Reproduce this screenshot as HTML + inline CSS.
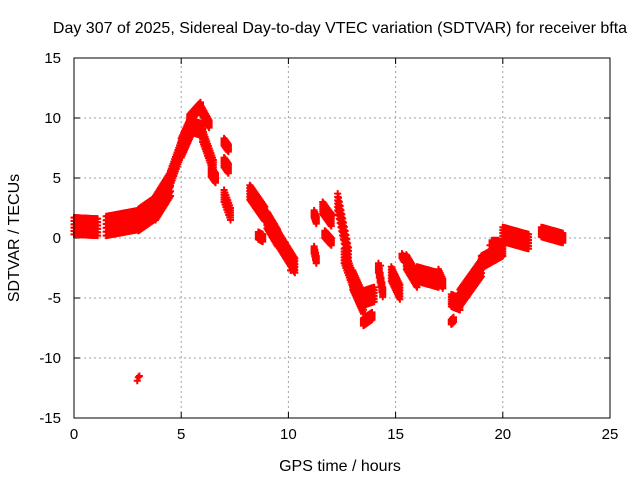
<!DOCTYPE html>
<html><head><meta charset="utf-8">
<style>
body{margin:0;background:#fff;}
svg{display:block;font-family:"Liberation Sans",sans-serif;}
</style></head>
<body>
<svg id="chart" width="640" height="480" xmlns="http://www.w3.org/2000/svg">
<text x="340" y="33" font-size="16" text-anchor="middle">Day 307 of 2025, Sidereal Day-to-day VTEC variation (SDTVAR) for receiver bfta</text>
<text x="340" y="471" font-size="16" text-anchor="middle">GPS time / hours</text>
<text transform="translate(19,238) rotate(-90)" font-size="16" text-anchor="middle">SDTVAR / TECUs</text>
<g id="grid"></g>
<g id="axes"></g>
<g id="points" stroke="#ff0000" stroke-width="2"></g>
<rect x="74" y="58" width="536" height="360" fill="none" stroke="#000" stroke-width="1"/>
</svg>
<script>
const xTicks=[0,5,10,15,20,25];
const yTicks=[-15,-10,-5,0,5,10,15];
// segments: [startHour, endHour, yStart, yEnd, bandHalfWidth]
const segments=[
[0.0,1.1,1.0,0.9,0.7],[1.5,3.0,1.0,1.5,0.8],[3.0,3.8,1.5,2.5,0.9],[3.8,4.5,2.5,4.5,1.0],
[4.5,5.0,5.0,7.5,0.6],[5.0,5.5,7.5,9.5,0.8],[5.4,5.9,10.0,11.0,0.3],[5.9,6.3,10.8,9.5,0.3],
[5.5,6.0,9.3,9.0,0.5],[6.0,6.5,8.5,6.0,0.5],[6.4,6.6,5.5,5.0,0.4],
[7.0,7.2,8.0,7.5,0.3],[7.0,7.2,6.3,5.8,0.4],[7.0,7.3,3.5,2.0,0.5],
[8.2,8.9,3.8,2.0,0.6],[8.6,8.8,0.2,0.0,0.3],[9.0,9.5,1.5,0.0,0.7],[9.5,10.3,0.0,-2.3,0.6],
[11.2,11.3,-1.0,-1.8,0.3],[11.2,11.3,2.0,1.5,0.3],[11.6,12.0,2.5,1.5,0.5],[11.7,12.0,0.3,-0.3,0.3],
[12.3,12.8,3.0,-1.5,0.7],[12.6,13.0,-1.5,-3.5,0.6],[13.0,13.5,-3.5,-5.5,0.8],
[13.5,13.9,-7.0,-6.5,0.3],[13.5,14.0,-5.0,-4.7,0.6],[14.2,14.4,-2.5,-4.5,0.4],
[14.8,15.2,-3.0,-4.5,0.6],[15.3,15.4,-1.5,-1.8,0.2],[15.5,16.0,-2.0,-3.5,0.6],
[16.0,17.0,-3.0,-3.5,0.6],[17.0,17.2,-3.0,-3.8,0.4],[17.6,18.0,-5.2,-5.5,0.5],[17.6,17.7,-7.0,-6.8,0.2],
[18.0,19.0,-5.0,-2.5,0.7],[19.0,20.0,-2.0,-1.0,0.5],[19.5,19.8,-0.5,-0.5,0.3],
[20.0,21.2,0.3,-0.3,0.6],[21.8,22.8,0.5,0.0,0.4]
];
const hours=[2.95,3.0,3.05,17.65,19.4,12.1,8.8,6.55,10.1,14.3];
const vtec=[-11.9,-11.6,-11.5,-7.1,-0.6,1.9,-0.1,4.9,-2.7,-2.3];

const X0=74,X1=610,Y0=418,Y1=58;
const xs=v=>X0+(v-0)/(25-0)*(X1-X0);
const ys=v=>Y0-(v+15)/30*(Y0-Y1);
const NS="http://www.w3.org/2000/svg";
const grid=document.getElementById('grid'),axes=document.getElementById('axes'),pts=document.getElementById('points');
function mk(tag,attrs,parent){const e=document.createElementNS(NS,tag);for(const k in attrs)e.setAttribute(k,attrs[k]);parent.appendChild(e);return e;}
xTicks.forEach(t=>{
  const x=xs(t);
  if(t>0&&t<25){const g=mk('line',{x1:x,x2:x,y1:Y0,y2:Y1,stroke:'#a0a0a0','stroke-dasharray':'2,3'},grid);
  
  }
  mk('line',{x1:x,x2:x,y1:Y0,y2:Y0-6,stroke:'#000'},axes);
  mk('line',{x1:x,x2:x,y1:Y1,y2:Y1+6,stroke:'#000'},axes);
  const tx=mk('text',{x:x,y:Y0+21,'font-size':15,'text-anchor':'middle'},axes);tx.textContent=t;
  
  
});
yTicks.forEach(t=>{
  const y=ys(t);
  if(t>-15&&t<15){const g=mk('line',{x1:X0,x2:X1,y1:y,y2:y,stroke:'#a0a0a0','stroke-dasharray':'2,3'},grid);
  
  }
  mk('line',{x1:X0,x2:X0+6,y1:y,y2:y,stroke:'#000'},axes);
  mk('line',{x1:X1,x2:X1-6,y1:y,y2:y,stroke:'#000'},axes);
  const tx=mk('text',{x:X0-13,y:y+5,'font-size':15,'text-anchor':'end'},axes);tx.textContent=t;
  
  
});
function plus(h,v){
  const x=xs(h),y=ys(v);
  const p=mk('path',{d:`M${x-3.5},${y}h7M${x},${y-3.5}v7`},pts);
  
  
}
const offs=[-1,-0.6,-0.2,0.2,0.6,1];
segments.forEach(s=>{
  const [h0,h1,v0,v1,w]=s;
  const n=Math.max(2,Math.round((h1-h0)/0.04));
  for(let i=0;i<=n;i++){
    const f=i/n,h=h0+(h1-h0)*f,c=v0+(v1-v0)*f;
    offs.forEach(o=>plus(h,c+o*w));
  }
});
hours.forEach((h,i)=>plus(h,vtec[i]));
</script>
</body></html>
